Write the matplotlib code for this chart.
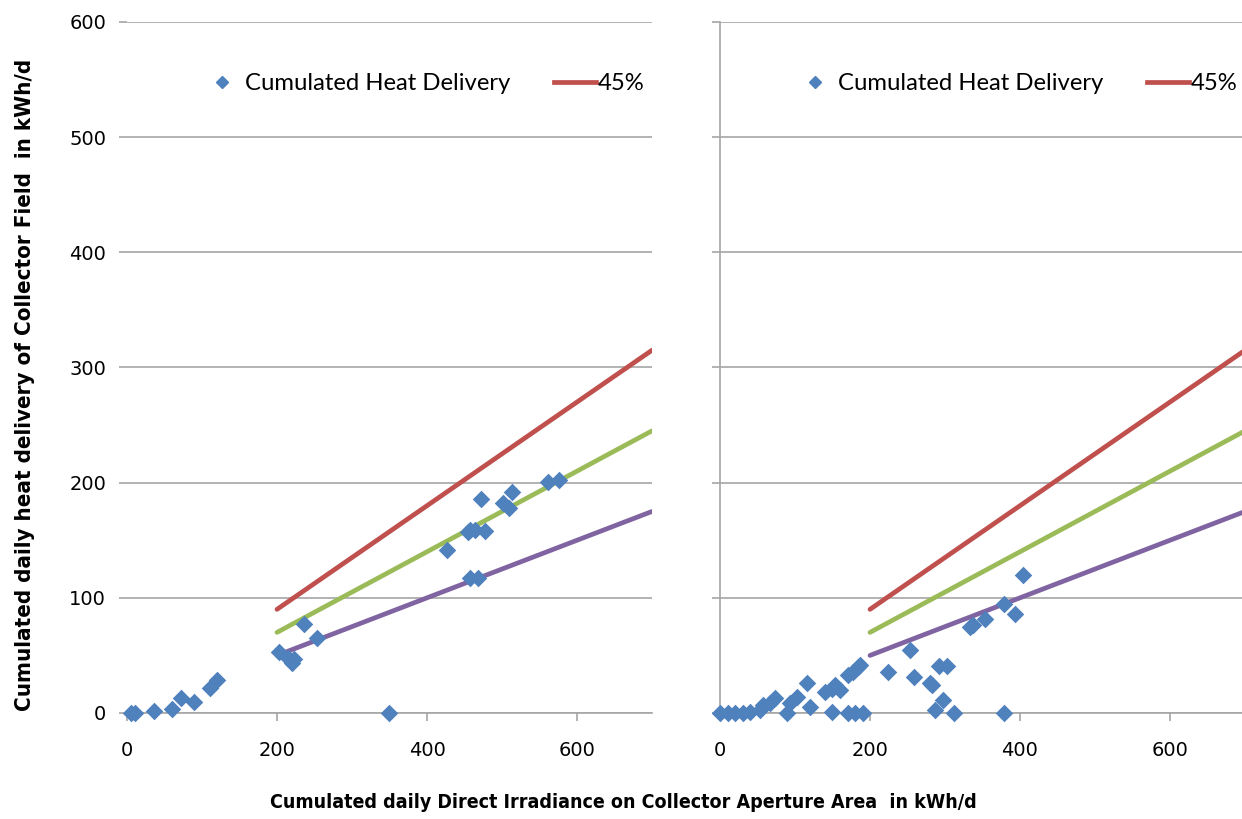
import matplotlib
matplotlib.use("Agg")
import matplotlib.pyplot as plt
from matplotlib.lines import Line2D

# scatter data, left panel
left_x = [5, 10, 36, 60, 72, 89, 111, 120, 203, 215, 220, 222, 236, 253, 349,
          427, 455, 457, 464, 477, 472, 501, 509, 513, 561, 576, 457, 468]
left_y = [0, 0, 2, 3.5, 13, 9.5, 22, 29, 53, 48, 43, 47, 77, 65, 0,
          141.5, 157, 159, 159, 158, 186, 182, 178, 192, 200.5, 202, 117, 117]

# scatter data, right panel
right_x = [0, 11, 20, 31, 40, 53, 57, 67, 73, 89, 93, 102, 116, 120, 140, 149, 153,
           160, 149, 171, 177, 184, 187, 171, 180, 191, 224, 253, 258, 280, 283,
           292, 302, 297, 287, 312, 379, 333, 337, 353, 379, 393, 404]
right_y = [0, 0, 0, 0, 1, 2.5, 7, 8.5, 13, 0, 8.5, 14, 26, 5, 18, 21, 24,
           20, 1, 33, 36, 40, 42, 0, 0, 0, 36, 55, 31, 26, 24,
           41, 41, 11, 3, 0, 0, 75, 76, 82, 94.5, 86, 120]

# efficiency lines (start / end points)
line_x = [200, 700]
red_y = [90, 315]
green_y = [70, 245]
purple_y = [50, 175]

blue = "#4F81BD"
red = "#C0504D"
green = "#9BBB59"
purple = "#8064A2"
grid_c = "#A6A6A6"

W, H = 1242, 819
fig = plt.figure(figsize=(W / 100, H / 100), dpi=100)
ax1 = fig.add_axes([127 / W, 106 / H, 525 / W, 691 / H])
ax2 = fig.add_axes([720 / W, 106 / H, 522 / W, 691 / H])

for ax, xs, ys, xmax in [(ax1, left_x, left_y, 700), (ax2, right_x, right_y, 696)]:
    ax.set_xlim(0, xmax)
    ax.set_ylim(0, 600)
    ax.set_xticks([0, 200, 400, 600])
    ax.set_yticks([0, 100, 200, 300, 400, 500, 600])
    ax.grid(axis="y", color=grid_c, linewidth=1.2)
    ax.set_axisbelow(True)
    for s in ["top", "right"]:
        ax.spines[s].set_visible(False)
    ax.spines["bottom"].set_color(grid_c)
    ax.spines["bottom"].set_linewidth(1.2)
    ax.tick_params(axis="x", direction="out", length=6, color=grid_c, width=1.2,
                   labelsize=14, pad=14)
    ax.tick_params(axis="y", direction="out", length=6, color=grid_c, width=1.2,
                   labelsize=14, pad=9)
    ax.plot(line_x, red_y, color=red, linewidth=3.4, solid_capstyle="round", zorder=2)
    ax.plot(line_x, green_y, color=green, linewidth=3.4, solid_capstyle="round", zorder=2)
    ax.plot(line_x, purple_y, color=purple, linewidth=3.4, solid_capstyle="round", zorder=2)
    ax.scatter(xs, ys, marker="D", s=80, color=blue, linewidths=0, zorder=3,
               clip_on=False)

ax1.spines["left"].set_visible(False)
ax2.spines["left"].set_color(grid_c)
ax2.spines["left"].set_linewidth(1.2)
ax2.tick_params(axis="y", labelleft=False)

handles = [Line2D([], [], linestyle="none", marker="D", markersize=6, color=blue),
           Line2D([], [], color=red, linewidth=3.4)]
labels = ["Cumulated Heat Delivery", "45%"]
for ax, x0 in [(ax1, 201), (ax2, 794)]:
    fig.legend(handles, labels, ncol=2, frameon=False, loc="center left",
               bbox_to_anchor=(x0 / W, 1 - 84 / H), borderpad=0, borderaxespad=0,
               handlelength=1.76, handletextpad=0.1, columnspacing=1.8,
               prop={"family": "Lato", "size": 17.2})

fig.text(25 / W, 1 - 385 / H, "Cumulated daily heat delivery of Collector Field  in kWh/d",
         rotation=90, ha="center", va="center", fontsize=16, fontweight="bold",
         fontstretch="condensed", family="DejaVu Sans")
fig.text(623 / W, 1 - 803 / H,
         "Cumulated daily Direct Irradiance on Collector Aperture Area  in kWh/d",
         ha="center", va="center", fontsize=14, fontweight="bold",
         fontstretch="condensed", family="DejaVu Sans")

fig.savefig("out.png", dpi=100)
